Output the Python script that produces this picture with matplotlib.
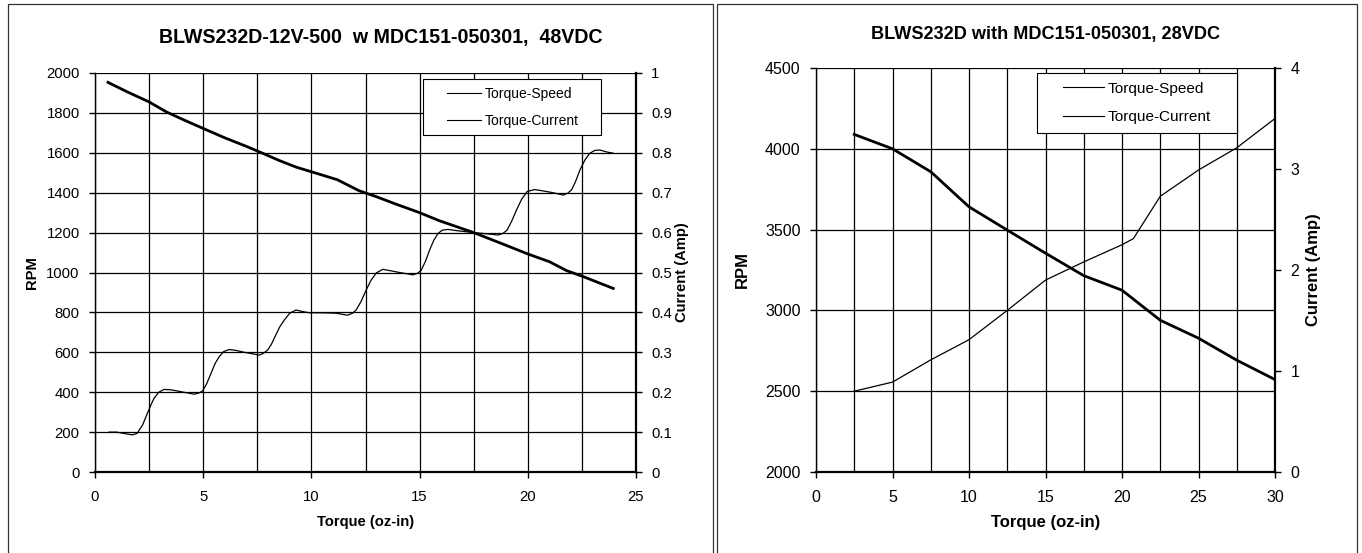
#torque curves for the BLWS232D motor, two test voltages side by side
#left panel 48VDC, right panel 28VDC
import matplotlib.pyplot as plt
from matplotlib.ticker import MultipleLocator
from matplotlib.lines import Line2D
from matplotlib.legend_handler import HandlerLine2D
from matplotlib.patches import Rectangle

plt.rcParams['font.family'] = ['Liberation Sans', 'DejaVu Sans']

# In[1]:
#48VDC panel, values
torque_48 = [0.6, 1.5, 2.5, 3.3, 4.1, 5.0, 6.0, 7.0, 7.7, 8.5, 9.3, 10.0, 11.2, 12.2,
             13.0, 13.8, 15.0, 15.9, 17.5, 18.7, 20.0, 21.0, 21.8, 22.5, 23.95]
speed_48 = [1953, 1905, 1855, 1805, 1765, 1722, 1675, 1632, 1600, 1562, 1528, 1505, 1465, 1410,
            1380, 1347, 1300, 1260, 1200, 1149, 1093, 1054, 1009, 982, 920]

#the current trace is a smoothed staircase, read densely so it stays round
torque_amp_48 = [0.65, 1.0, 1.3, 1.73, 1.95, 2.2, 2.42, 2.6, 2.73, 2.95, 3.19, 3.5, 3.81, 4.2,
                 4.58, 4.8, 4.97, 5.15, 5.36, 5.55, 5.74, 5.95, 6.2, 6.5, 6.9, 7.3, 7.59, 7.8,
                 7.98, 8.15, 8.35, 8.55, 8.75, 9.0, 9.29, 9.6, 9.91, 10.5, 11.14, 11.45, 11.68,
                 11.9, 12.07, 12.3, 12.53, 12.75, 13.0, 13.3, 13.7, 14.07, 14.4, 14.69, 14.9,
                 15.08, 15.27, 15.46, 15.65, 15.85, 16.05, 16.31, 16.7, 17.16, 17.9, 18.63,
                 18.85, 19.04, 19.25, 19.48, 19.72, 19.97, 20.32, 20.75, 21.17, 21.64, 21.85,
                 22.02, 22.2, 22.41, 22.65, 22.87, 23.1, 23.33, 23.65, 23.95]
current_48 = [0.100, 0.100, 0.097, 0.093, 0.097, 0.118, 0.147, 0.170, 0.185, 0.200, 0.207, 0.206,
              0.203, 0.199, 0.195, 0.198, 0.203, 0.220, 0.247, 0.272, 0.289, 0.302, 0.307, 0.305,
              0.300, 0.296, 0.293, 0.298, 0.306, 0.320, 0.343, 0.365, 0.381, 0.398, 0.406, 0.402,
              0.399, 0.399, 0.398, 0.395, 0.393, 0.398, 0.406, 0.428, 0.456, 0.480, 0.499, 0.508,
              0.504, 0.500, 0.497, 0.494, 0.498, 0.506, 0.528, 0.556, 0.580, 0.598, 0.606, 0.608,
              0.605, 0.602, 0.598, 0.594, 0.598, 0.606, 0.628, 0.657, 0.684, 0.703, 0.708, 0.704,
              0.700, 0.694, 0.699, 0.707, 0.727, 0.757, 0.783, 0.799, 0.806, 0.807, 0.802, 0.799]

rpm_ticks_48 = [0, 200, 400, 600, 800, 1000, 1200, 1400, 1600, 1800, 2000]
rpm_labels_48 = ['0', '200', '400', '600', '800', '1000', '1200', '1400', '1600', '1800', '2000']
amp_ticks_48 = [0, 0.1, 0.2, 0.3, 0.4, 0.5, 0.6, 0.7, 0.8, 0.9, 1.0]
amp_labels_48 = ['0', '0.1', '0.2', '0.3', '0.4', '0.5', '0.6', '0.7', '0.8', '0.9', '1']

#28VDC panel
torque_28 = [2.5, 5, 7.5, 10, 12.5, 15, 17.5, 20, 22.5, 25, 27.5, 30]
speed_28 = [4089, 4000, 3858, 3641, 3497, 3354, 3215, 3125, 2939, 2828, 2692, 2572]
torque_amp_28 = [2.5, 5, 7.5, 10, 12.5, 15, 17.5, 20, 20.74, 22.5, 25, 27.5, 30]
current_28 = [0.80, 0.89, 1.11, 1.31, 1.60, 1.90, 2.08, 2.25, 2.31, 2.73, 2.99, 3.21, 3.50]

rpm_ticks_28 = [2000, 2500, 3000, 3500, 4000, 4500]
rpm_labels_28 = ['2000', '2500', '3000', '3500', '4000', '4500']
amp_ticks_28 = [0, 1, 2, 3, 4]
amp_labels_28 = ['0', '1', '2', '3', '4']

title_48 = 'BLWS232D-12V-500  w MDC151-050301,  48VDC'
title_28 = 'BLWS232D with MDC151-050301, 28VDC'
legend_labels = ['Torque-Speed', 'Torque-Current']


# In[2]:
#excel legend keys start a bit inside the box, so draw only the right part
class ShortLine(HandlerLine2D):

    def __init__(self, gap=0.3, **kw):
        super().__init__(**kw)
        self.gap = gap

    def create_artists(self, legend, orig_handle, xdescent, ydescent,
                       width, height, fontsize, trans):
        y = height/2.0 - ydescent
        x0 = -xdescent + width*self.gap
        ln = Line2D([x0, -xdescent + width], [y, y], color='k', lw=0.8)
        ln.set_transform(trans)
        return [ln]


def panel(fig, rect, torque, speed, torque_amp, current, xmax,
          rpm_ticks, rpm_labels, amp_ticks, amp_labels,
          fs_tick, fs_lab, fs_leg, leg_box, leg_len, gap, ylab_x, alab_x):

    ax = fig.add_axes(rect)
    ax2 = ax.twinx()

    ax.plot(torque, speed, color='k', lw=2.0, solid_joinstyle='round')
    ax2.plot(torque_amp, current, color='k', lw=0.9, solid_joinstyle='round')

    ax.set_xlim(0, xmax)
    ax.set_ylim(rpm_ticks[0], rpm_ticks[-1])
    ax2.set_ylim(amp_ticks[0], amp_ticks[-1])

    #major ticks every 5, gridlines every 2.5
    ax.xaxis.set_major_locator(MultipleLocator(5))
    ax.xaxis.set_minor_locator(MultipleLocator(2.5))
    ax.set_yticks(rpm_ticks)
    ax.set_yticklabels(rpm_labels)
    ax2.set_yticks(amp_ticks)
    ax2.set_yticklabels(amp_labels)

    ax.grid(True, which='both', axis='x', color='k', lw=0.9)
    ax.grid(True, which='major', axis='y', color='k', lw=0.9)
    ax.set_axisbelow(True)

    ax.tick_params(which='minor', length=0)
    ax.tick_params(which='major', direction='out', length=4, width=1,
                   colors='k', labelsize=fs_tick)
    ax.tick_params(axis='x', pad=9)
    ax.tick_params(axis='y', pad=7)
    ax2.tick_params(direction='out', length=4, width=1, colors='k',
                    labelsize=fs_tick, pad=7)

    for s in ['top', 'right']:
        ax.spines[s].set_visible(False)
    for s in ['top', 'left', 'bottom']:
        ax2.spines[s].set_visible(False)
    ax.spines['left'].set_linewidth(1.0)
    ax.spines['bottom'].set_linewidth(1.6)
    ax2.spines['right'].set_linewidth(1.6)

    ax.set_xlabel('Torque (oz-in)', fontsize=fs_lab, fontweight='bold')
    ax.xaxis.set_label_coords(0.5, -0.107)
    ax.set_ylabel('RPM', fontsize=fs_lab, fontweight='bold')
    ax.yaxis.set_label_coords(ylab_x, 0.5)
    ax2.set_ylabel('Current (Amp)', fontsize=fs_lab, fontweight='bold')
    ax2.yaxis.set_label_coords(alab_x, 0.5)

    #expand mode keeps the extra room on the right like excel does
    handles = [Line2D([], [], color='k'), Line2D([], [], color='k')]
    leg = ax2.legend(handles, legend_labels, loc='upper left', bbox_to_anchor=leg_box,
                     mode='expand', fontsize=fs_leg, frameon=True, fancybox=False,
                     framealpha=1, edgecolor='k', borderpad=0.55, labelspacing=0.95,
                     handlelength=leg_len, handletextpad=0.25, borderaxespad=0,
                     handler_map={Line2D: ShortLine(gap=gap)})
    leg.get_frame().set_linewidth(0.8)

    return ax, ax2


# In[3]:
def main():

    fig = plt.figure(figsize=(13.62, 5.53), dpi=100)

    #outer boxes round each chart
    fig.patches.append(Rectangle((8/1362, -0.05), 705/1362, 1.05 - 4/553, transform=fig.transFigure,
                                 fill=False, ec='#333333', lw=0.9))
    fig.patches.append(Rectangle((717/1362, -0.05), 640/1362, 1.05 - 4/553, transform=fig.transFigure,
                                 fill=False, ec='#333333', lw=0.9))

    panel(fig, [95/1362, 81/553, 541/1362, 399/553],
          torque_48, speed_48, torque_amp_48, current_48, 25,
          rpm_ticks_48, rpm_labels_48, amp_ticks_48, amp_labels_48,
          10.7, 10.6, 10, (0.607, 0.5, 0.328, 0.485), 3.59, 0.32, -0.104, 1.072)

    panel(fig, [816/1362, 81/553, 459/1362, 404/553],
          torque_28, speed_28, torque_amp_28, current_28, 30,
          rpm_ticks_28, rpm_labels_28, amp_ticks_28, amp_labels_28,
          11.5, 12, 11.1, (0.481, 0.5, 0.436, 0.487), 3.78, 0.30, -0.144, 1.0675)

    fig.text(381/1362, 1 - 38/553, title_48, ha='center', va='center',
             fontsize=14.1, fontweight='bold')
    fig.text(1046/1362, 1 - 35/553, title_28, ha='center', va='center',
             fontsize=13.1, fontweight='bold')

    fig.savefig('out.png', dpi=100)


if __name__ == '__main__':
    main()
